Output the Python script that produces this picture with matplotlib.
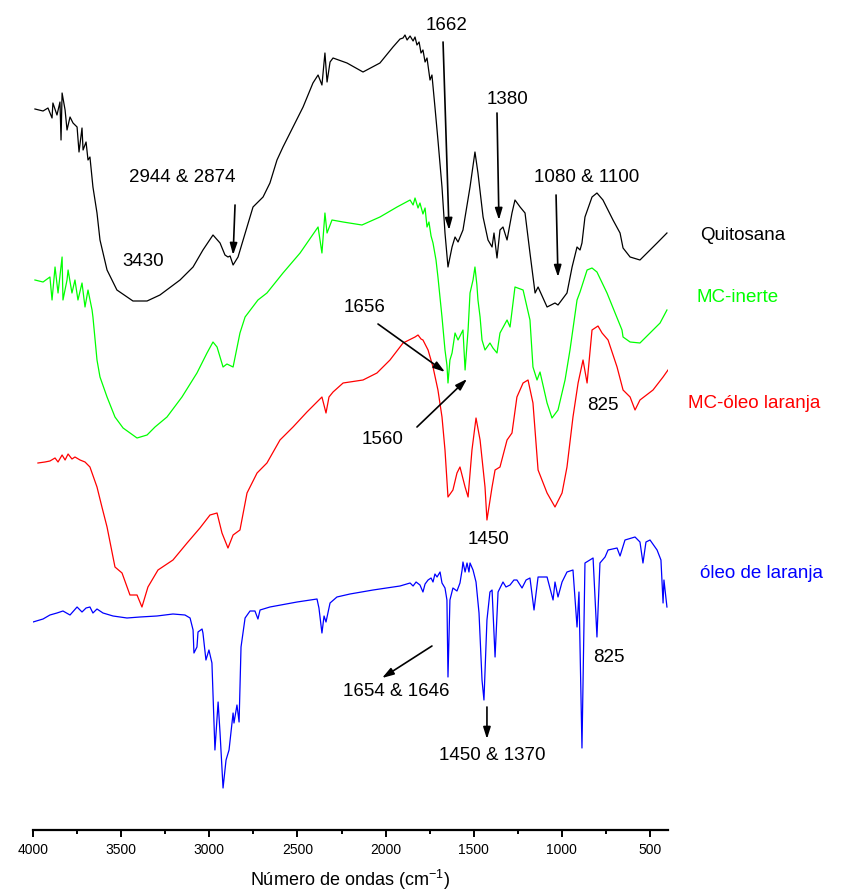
import matplotlib
matplotlib.use("Agg")
import matplotlib.pyplot as plt
from matplotlib.ticker import MultipleLocator

plt.rcParams["font.family"] = ["Liberation Sans", "DejaVu Sans"]
plt.rcParams["mathtext.fontset"] = "custom"
plt.rcParams["mathtext.rm"] = "Liberation Sans"
plt.rcParams["mathtext.default"] = "regular"

# -- Spectres FTIR (numero de onda, transmitancia deslocada) ------------------
quit_wn = [3989, 3943, 3915, 3892, 3887, 3864, 3847, 3841, 3835, 3818, 3807, 3790,
           3773, 3750, 3739, 3722, 3716, 3699, 3688, 3677, 3660, 3637, 3620, 3580,
           3524, 3433, 3353, 3280, 3166, 3092, 3036, 2979, 2939, 2911, 2894, 2882,
           2865, 2837, 2786, 2752, 2695, 2656, 2616, 2582, 2525, 2468, 2412, 2383,
           2361, 2344, 2332, 2315, 2298, 2219, 2128, 2032, 1958, 1918, 1901, 1890,
           1878, 1861, 1844, 1833, 1822, 1810, 1799, 1788, 1776, 1765, 1748, 1737,
           1720, 1703, 1680, 1663, 1646, 1623, 1606, 1589, 1561, 1549, 1521, 1493,
           1476, 1447, 1419, 1396, 1385, 1368, 1351, 1334, 1311, 1283, 1266, 1237,
           1209, 1181, 1152, 1135, 1084, 1039, 1022, 971, 942, 914, 897, 886, 869,
           829, 801, 767, 710, 670, 653, 613, 557, 517, 460, 404]
quit_t = [721, 719, 722, 712, 727, 715, 728, 690, 737, 720, 700, 713,
          707, 703, 678, 702, 680, 688, 670, 673, 643, 617, 590, 560,
          540, 529, 529, 535, 550, 563, 580, 595, 587, 575, 573, 574,
          565, 573, 603, 623, 633, 647, 670, 683, 703, 723, 747, 755,
          745, 777, 748, 768, 772, 767, 758, 767, 783, 791, 792, 795,
          790, 794, 789, 793, 785, 788, 777, 780, 768, 772, 750, 755,
          723, 690, 643, 597, 563, 583, 593, 588, 600, 613, 643, 678,
          657, 613, 590, 583, 597, 572, 600, 603, 590, 617, 630, 623,
          617, 577, 537, 543, 523, 527, 525, 537, 563, 583, 580, 587, 613,
          633, 637, 630, 610, 597, 582, 573, 570, 577, 587, 597]

inerte_wn = [3989, 3943, 3904, 3892, 3875, 3858, 3835, 3830, 3807, 3801, 3779, 3762,
             3745, 3722, 3705, 3688, 3665, 3660, 3637, 3620, 3580, 3535, 3489, 3410,
             3353, 3308, 3240, 3155, 3070, 3013, 2979, 2956, 2922, 2900, 2865, 2826,
             2797, 2724, 2673, 2582, 2485, 2383, 2361, 2344, 2332, 2304, 2241, 2134,
             2032, 1935, 1861, 1844, 1833, 1816, 1805, 1788, 1776, 1765, 1754, 1742,
             1731, 1714, 1703, 1680, 1663, 1652, 1646, 1635, 1623, 1606, 1589, 1561,
             1549, 1532, 1521, 1504, 1493, 1482, 1476, 1464, 1453, 1436, 1408, 1391,
             1368, 1351, 1311, 1294, 1266, 1220, 1181, 1164, 1141, 1124, 1084, 1056,
             1022, 982, 954, 914, 897, 857, 829, 801, 744, 659, 653, 613, 557, 500,
             443, 404]
inerte_t = [550, 548, 553, 530, 563, 537, 573, 530, 550, 560, 537, 550,
            530, 547, 523, 540, 520, 513, 470, 453, 433, 413, 402, 392,
            395, 403, 413, 433, 457, 477, 488, 483, 463, 466, 463, 497,
            513, 530, 537, 557, 577, 603, 577, 617, 597, 610, 608, 605,
            613, 623, 630, 625, 632, 622, 627, 616, 622, 603, 608, 594,
            587, 570, 553, 513, 480, 465, 447, 470, 477, 497, 490, 500,
            460, 500, 537, 550, 563, 545, 530, 513, 490, 480, 487, 482,
            477, 497, 510, 503, 543, 540, 510, 463, 450, 458, 427, 412,
            420, 450, 480, 530, 538, 560, 562, 558, 537, 500, 493, 488, 487, 497,
            507, 520]

oleo_mc_wn = [3972, 3932, 3904, 3875, 3858, 3835, 3818, 3801, 3779, 3762, 3733, 3705,
              3677, 3637, 3609, 3580, 3535, 3495, 3450, 3410, 3382, 3348, 3291, 3206,
              3126, 3053, 2996, 2956, 2928, 2894, 2865, 2826, 2786, 2729, 2673, 2599,
              2525, 2446, 2361, 2338, 2321, 2298, 2241, 2128, 2049, 1975, 1901, 1833,
              1816, 1799, 1788, 1759, 1731, 1703, 1680, 1663, 1646, 1618, 1595, 1578,
              1549, 1532, 1510, 1487, 1464, 1436, 1425, 1396, 1379, 1351, 1311, 1283,
              1255, 1220, 1192, 1164, 1135, 1084, 1039, 999, 971, 937, 908, 880, 857,
              829, 795, 772, 738, 687, 653, 613, 585, 557, 483, 426, 398]
oleo_mc_t = [367, 368, 369, 372, 368, 375, 370, 376, 371, 373, 370, 368,
             363, 343, 323, 303, 263, 257, 235, 235, 223, 243, 260, 270,
             287, 302, 315, 317, 297, 282, 295, 300, 337, 357, 367, 390,
             403, 418, 433, 417, 433, 438, 447, 450, 457, 470, 487, 493,
             495, 491, 490, 480, 463, 440, 413, 380, 333, 340, 357, 363,
             343, 333, 380, 412, 390, 343, 310, 343, 360, 363, 390, 397,
             433, 447, 450, 427, 360, 337, 323, 337, 363, 413, 447, 470, 447,
             500, 504, 497, 490, 463, 440, 433, 420, 430, 440, 453, 460]

oleo_wn = [4000, 3943, 3904, 3864, 3830, 3790, 3750, 3722, 3699, 3677, 3660, 3637,
           3603, 3546, 3467, 3393, 3297, 3206, 3138, 3109, 3092, 3087, 3070, 3064,
           3041, 3036, 3019, 3002, 2985, 2979, 2968, 2950, 2939, 2922, 2905, 2888,
           2865, 2860, 2843, 2831, 2820, 2797, 2769, 2741, 2724, 2712, 2656, 2502,
           2389, 2378, 2361, 2349, 2338, 2315, 2276, 2202, 2071, 1918, 1861, 1844,
           1827, 1805, 1788, 1776, 1759, 1742, 1731, 1720, 1708, 1691, 1680, 1663,
           1652, 1646, 1635, 1618, 1595, 1578, 1566, 1561, 1549, 1538, 1527, 1521,
           1504, 1487, 1470, 1453, 1442, 1425, 1408, 1396, 1379, 1362, 1334, 1317,
           1294, 1272, 1255, 1226, 1203, 1181, 1158, 1135, 1084, 1050, 1039, 1022,
           999, 971, 937, 914, 903, 886, 869, 823, 801, 784, 755, 738, 687, 670,
           642, 585, 557, 540, 523, 500, 460, 438, 426, 421, 404]
oleo_t = [208, 211, 215, 217, 219, 215, 223, 218, 222, 223, 217, 221,
          217, 214, 212, 213, 214, 216, 215, 212, 200, 177, 183, 198,
          201, 197, 170, 180, 167, 137, 80, 128, 97, 42, 70, 80,
          117, 107, 125, 108, 183, 212, 219, 219, 211, 220, 223, 228,
          231, 222, 197, 214, 208, 227, 233, 236, 240, 244, 247, 244,
          248, 245, 238, 246, 250, 252, 248, 256, 253, 258, 247, 242,
          230, 153, 230, 242, 239, 247, 260, 268, 258, 267, 258, 267,
          260, 248, 217, 150, 130, 210, 238, 240, 173, 238, 248, 243,
          245, 250, 250, 242, 250, 252, 220, 253, 253, 230, 248, 233,
          248, 258, 260, 203, 238, 82, 267, 272, 193, 267, 273, 280, 282, 274,
          290, 293, 288, 267, 288, 290, 280, 270, 227, 250, 223]

series = [
    (quit_wn, quit_t, "black"),
    (inerte_wn, inerte_t, "#00ff00"),
    (oleo_mc_wn, oleo_mc_t, "red"),
    (oleo_wn, oleo_t, "blue"),
]

# -- Rotulos das curvas e das bandas ------------------------------------------
curve_labels = [
    ("Quitosana", 216, 595, "black"),
    ("MC-inerte", 239, 533, "#00ff00"),
    ("MC-óleo laranja", 284, 426, "red"),
    ("óleo de laranja", 216, 256, "blue"),
]
band_labels = [
    ("1662", 1652, 805), ("1380", 1311, 730), ("1080 & 1100", 857, 653),
    ("2944 & 2874", 3155, 653), ("3430", 3376, 569), ("1656", 2122, 522),
    ("1560", 2015, 391), ("825", 767, 424), ("1450", 1419, 291),
    ("1654 & 1646", 1941, 138), ("1450 & 1370", 1396, 74), ("825", 733, 173),
]
# setas: (origem, destino)
arrows = [
    ((2854, 625), (2865, 575)), ((1674, 788), (1640, 600)),
    ((1368, 717), (1357, 610)), ((1033, 635), (1022, 553)),
    ((2043, 506), (1663, 458)), ((1822, 403), (1538, 451)),
    ((1737, 184), (2020, 152)), ((1425, 123), (1425, 91)),
]

fig = plt.figure(figsize=(8.6, 8.91), dpi=100)
ax = fig.add_axes([33 / 860, 61 / 891, 635 / 860, 830 / 891])

for wn, t, c in series:
    ax.plot(wn, t, color=c, lw=0.9)

for txt, x, y, c in curve_labels:
    ax.text(x, y, txt, color=c, fontsize=13.5, ha="left", va="center")
for txt, x, y in band_labels:
    ax.text(x, y, txt, color="black", fontsize=13.5, ha="center", va="center")
for (x0, y0), (x1, y1) in arrows:
    ax.annotate("", xy=(x1, y1), xytext=(x0, y0),
                arrowprops=dict(arrowstyle="-|>,head_length=0.7,head_width=0.22",
                                color="black", lw=1.2, shrinkA=0, shrinkB=0))

ax.set_xlim(4000, 398)
ax.set_ylim(0, 830)
ax.xaxis.set_major_locator(MultipleLocator(500))
ax.xaxis.set_minor_locator(MultipleLocator(250))
ax.tick_params(axis="x", which="major", direction="out", length=5, width=1.4,
               labelsize=10, pad=4)
ax.tick_params(axis="x", which="minor", direction="out", length=3, width=1.4)
ax.set_yticks([])
for side in ("left", "right", "top"):
    ax.spines[side].set_visible(False)
ax.spines["bottom"].set_linewidth(1.6)
ax.set_xlabel("Número de ondas (cm$^{-1}$)", fontsize=13, labelpad=8)

fig.savefig("out.png", dpi=100)
